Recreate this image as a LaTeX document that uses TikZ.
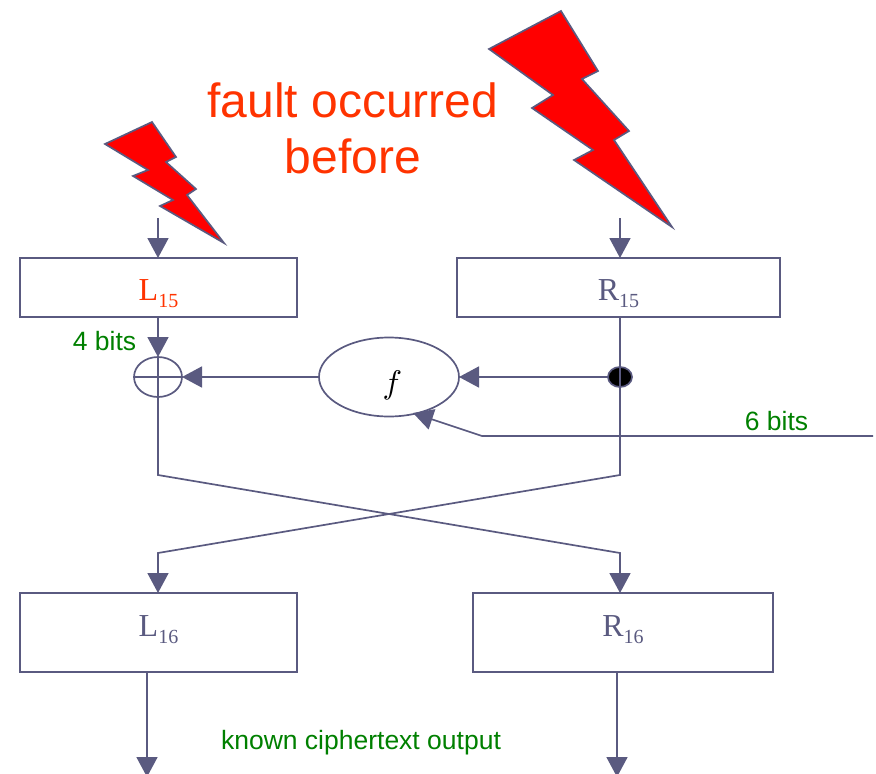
\documentclass[tikz,border=0pt]{standalone}
\usepackage{fontspec}
\setmainfont{Liberation Serif}
\newfontfamily\labelsans{Liberation Sans}
\usetikzlibrary{arrows.meta,shapes.geometric}

\definecolor{wire}{HTML}{5A5A80}
\definecolor{faultred}{HTML}{FF3300}
\definecolor{bitgreen}{HTML}{008000}

\newcommand{\subtext}[2]{#1\raisebox{-7.5pt}{\fontsize{20}{20}\selectfont #2}}

\tikzset{
  wirearrow/.style={draw=wire, line width=1.7pt, -{Triangle[width=21pt,length=20pt]}},
  wireline/.style={draw=wire, line width=1.7pt},
  regbox/.style={draw=wire, line width=1.7pt, rectangle, inner sep=0pt, outer sep=0pt,
    text=wire, font=\fontsize{32}{34}\selectfont},
  bolt/.style={draw=wire, fill=red, line width=1.7pt, line join=miter},
  greenlabel/.style={text=bitgreen, font=\labelsans\fontsize{26.5}{30}\selectfont, inner sep=0pt}
}

\begin{document}
\begin{tikzpicture}[x=1pt, y=-1pt]
\useasboundingbox (0,0) rectangle (876,774);

%------------------ FAULT BOLTS ------------------%
\draw[bolt] (561,11) -- (598,71) -- (582,79) -- (629,131) -- (614,140) -- (672,227)
  -- (574,160) -- (593,150) -- (532,108) -- (553,95) -- (489,49) -- cycle;
\draw[bolt] (152,122) -- (176,157) -- (166,162) -- (196,189) -- (187,195) -- (224,243)
  -- (160,206) -- (173,200) -- (133,176) -- (148,170) -- (105,144) -- cycle;

\node[text=faultred, font=\labelsans\fontsize{48}{56}\selectfont, align=center, inner sep=0pt]
  (faultText) at (353,128) {fault occurred\\before};

%------------------ REGISTERS ------------------%
\node[regbox, minimum width=277pt, minimum height=59pt, text=faultred, text height=35pt, text depth=10pt] (L15) at (158.5,287.5) {\subtext{L}{15}};
\node[regbox, minimum width=323pt, minimum height=59pt, text height=35pt, text depth=10pt] (R15) at (618.5,287.5) {\subtext{R}{15}};
\node[regbox, minimum width=277pt, minimum height=79pt, text height=29pt, text depth=22pt] (L16) at (158.5,632.5) {\subtext{L}{16}};
\node[regbox, minimum width=300pt, minimum height=79pt, text height=29pt, text depth=22pt] (R16) at (623,632.5) {\subtext{R}{16}};

%------------------ ROUND FUNCTION ------------------%
\node[ellipse, draw=wire, line width=1.7pt, minimum width=48pt, minimum height=40pt,
  inner sep=0pt, outer sep=0pt] (xorNode) at (158,377) {};
\node[ellipse, draw=wire, line width=1.7pt, minimum width=140pt, minimum height=79pt,
  inner sep=0pt, outer sep=0pt, text height=42pt, text depth=9pt] (fNode) at (389,377) {\hspace{7pt}\scalebox{3.27}{$f$}};
\node[ellipse, draw=wire, fill=black, line width=1.7pt, minimum width=24pt, minimum height=20pt,
  inner sep=0pt, outer sep=0pt] (splitDot) at (620,377) {};

\coordinate (inL) at (158,218);
\coordinate (inR) at (620,218);
\coordinate (topL) at (158,317);
\coordinate (topR) at (620,317);
\coordinate (crossA) at (158,475);
\coordinate (crossB) at (620,553);
\coordinate (crossC) at (620,475);
\coordinate (crossD) at (158,553);
\coordinate (endL) at (158,593);
\coordinate (endR) at (620,593);
\coordinate (keyIn) at (873,436);
\coordinate (keyBend) at (482,436);
\coordinate (keyTip) at (413,413);
\coordinate (outL) at (147,672);
\coordinate (outR) at (617,672);
\coordinate (outLend) at (147,777);
\coordinate (outRend) at (617,777);

%------------------ CONNECTORS ------------------%
\draw[wirearrow] (inL) -- (inL |- L15.north);
\draw[wirearrow] (inR) -- (inR |- R15.north);
\draw[wirearrow] (topL) -- (xorNode.north);
\draw[wirearrow] (fNode.west) -- (xorNode.east);
\draw[wirearrow] (splitDot.west) -- (fNode.east);
\draw[wirearrow] (keyIn) -- (keyBend) -- (keyTip);
\draw[wireline] (xorNode.west) -- (xorNode.east);
\draw[wireline] (xorNode.north) -- (xorNode.south);
\draw[wirearrow] (xorNode.south) -- (crossA) -- (crossB) -- (endR);
\draw[wirearrow] (topR) -- (crossC) -- (crossD) -- (endL);
\draw[wirearrow] (outL) -- (outLend);
\draw[wirearrow] (outR) -- (outRend);

%------------------ LABELS ------------------%
\node[greenlabel] (bits4) at (104.5,341) {4 bits};
\node[greenlabel] (bits6) at (776.5,421) {6 bits};
\node[greenlabel] (knownText) at (361,743) {known ciphertext output};

\end{tikzpicture}
\end{document}
